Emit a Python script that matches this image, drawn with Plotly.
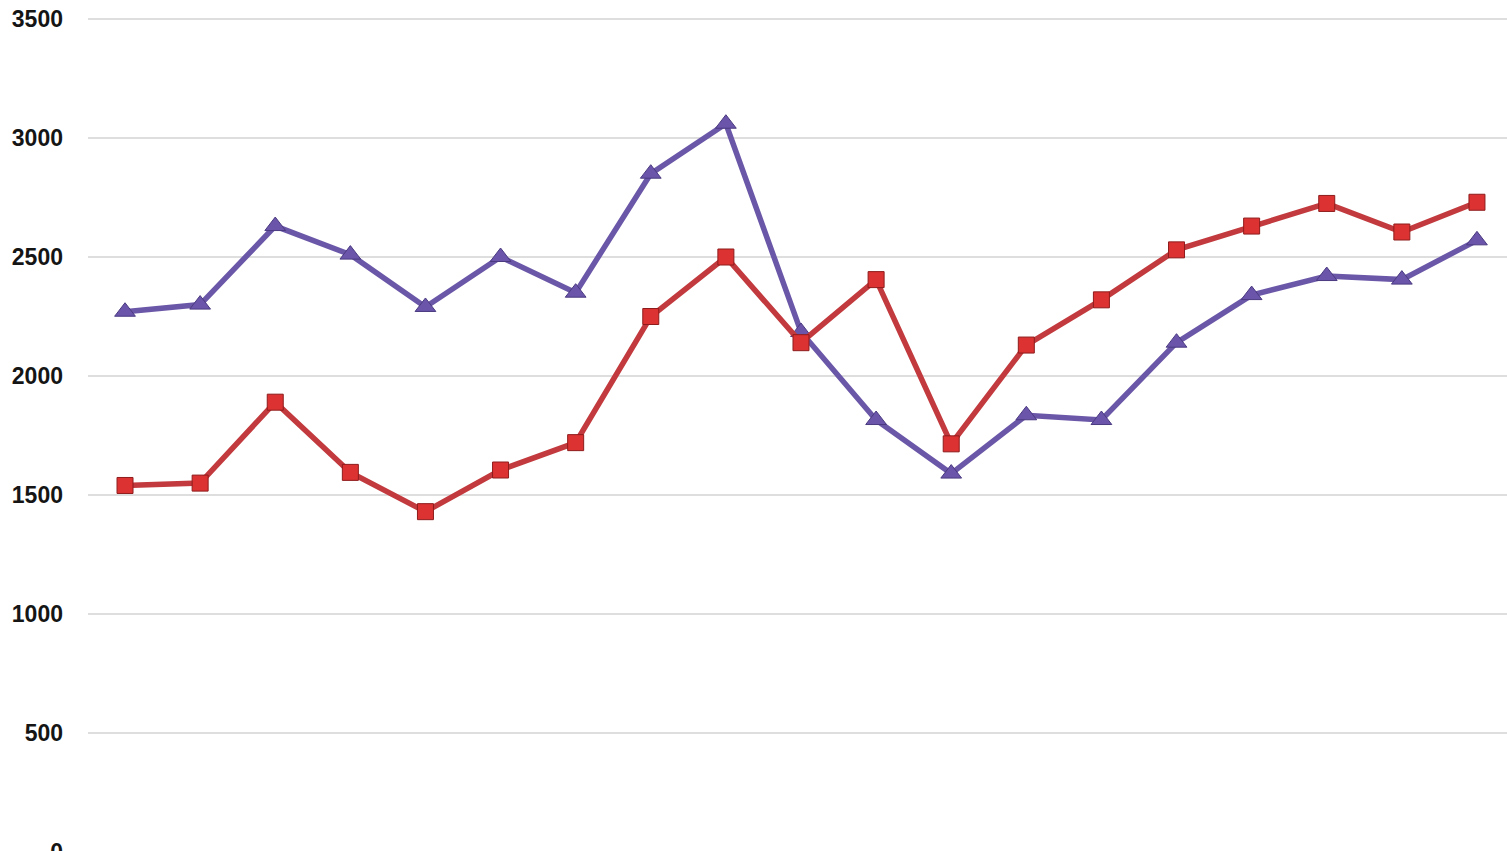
import plotly.graph_objects as go

x_index = list(range(19))
purple_values = [2270, 2300, 2630, 2510, 2290, 2500, 2350, 2850, 3060, 2185,
                 1815, 1590, 1835, 1815, 2140, 2340, 2420, 2405, 2570]
red_values = [1540, 1550, 1890, 1595, 1430, 1605, 1720, 2250, 2500, 2140,
              2405, 1715, 2130, 2320, 2530, 2630, 2725, 2605, 2730]
y_ticks = [0, 500, 1000, 1500, 2000, 2500, 3000, 3500]

fig = go.Figure()
fig.add_trace(go.Scatter(
    x=x_index, y=purple_values, mode="lines+markers",
    line=dict(color="#6b57a8", width=5.5),
    marker=dict(symbol="triangle-up", size=18, color="#6a55aa",
                line=dict(color="#4b3a80", width=1)),
    showlegend=False, name="A"))
fig.add_trace(go.Scatter(
    x=x_index, y=red_values, mode="lines+markers",
    line=dict(color="#c23a3d", width=5.5),
    marker=dict(symbol="square", size=16, color="#dd3232",
                line=dict(color="#8e1c1c", width=1)),
    showlegend=False, name="B"))

# figure is taller than the window so the "0" label is cut at the bottom edge
fig.update_layout(
    width=1507, height=870,
    margin=dict(l=88, r=0, t=10, b=0),
    paper_bgcolor="white", plot_bgcolor="white",
    font=dict(family="Liberation Sans, Arial, sans-serif", size=23, color="#151515",
              weight=600),
    xaxis=dict(range=[-0.493, 18.40], showgrid=False, zeroline=False,
               showticklabels=False, showline=False, ticks=""),
    yaxis=dict(range=[-75.6, 3537.8], tickvals=y_ticks,
               ticktext=[str(v) for v in y_ticks],
               showgrid=True, gridcolor="#dedede", gridwidth=2,
               zeroline=False, showline=False, ticks="",
               ticklabelstandoff=24),
)

fig.write_html("out.html", config={"displayModeBar": False},
               post_script="document.body.style.margin='0px';document.body.style.overflow='hidden';")
